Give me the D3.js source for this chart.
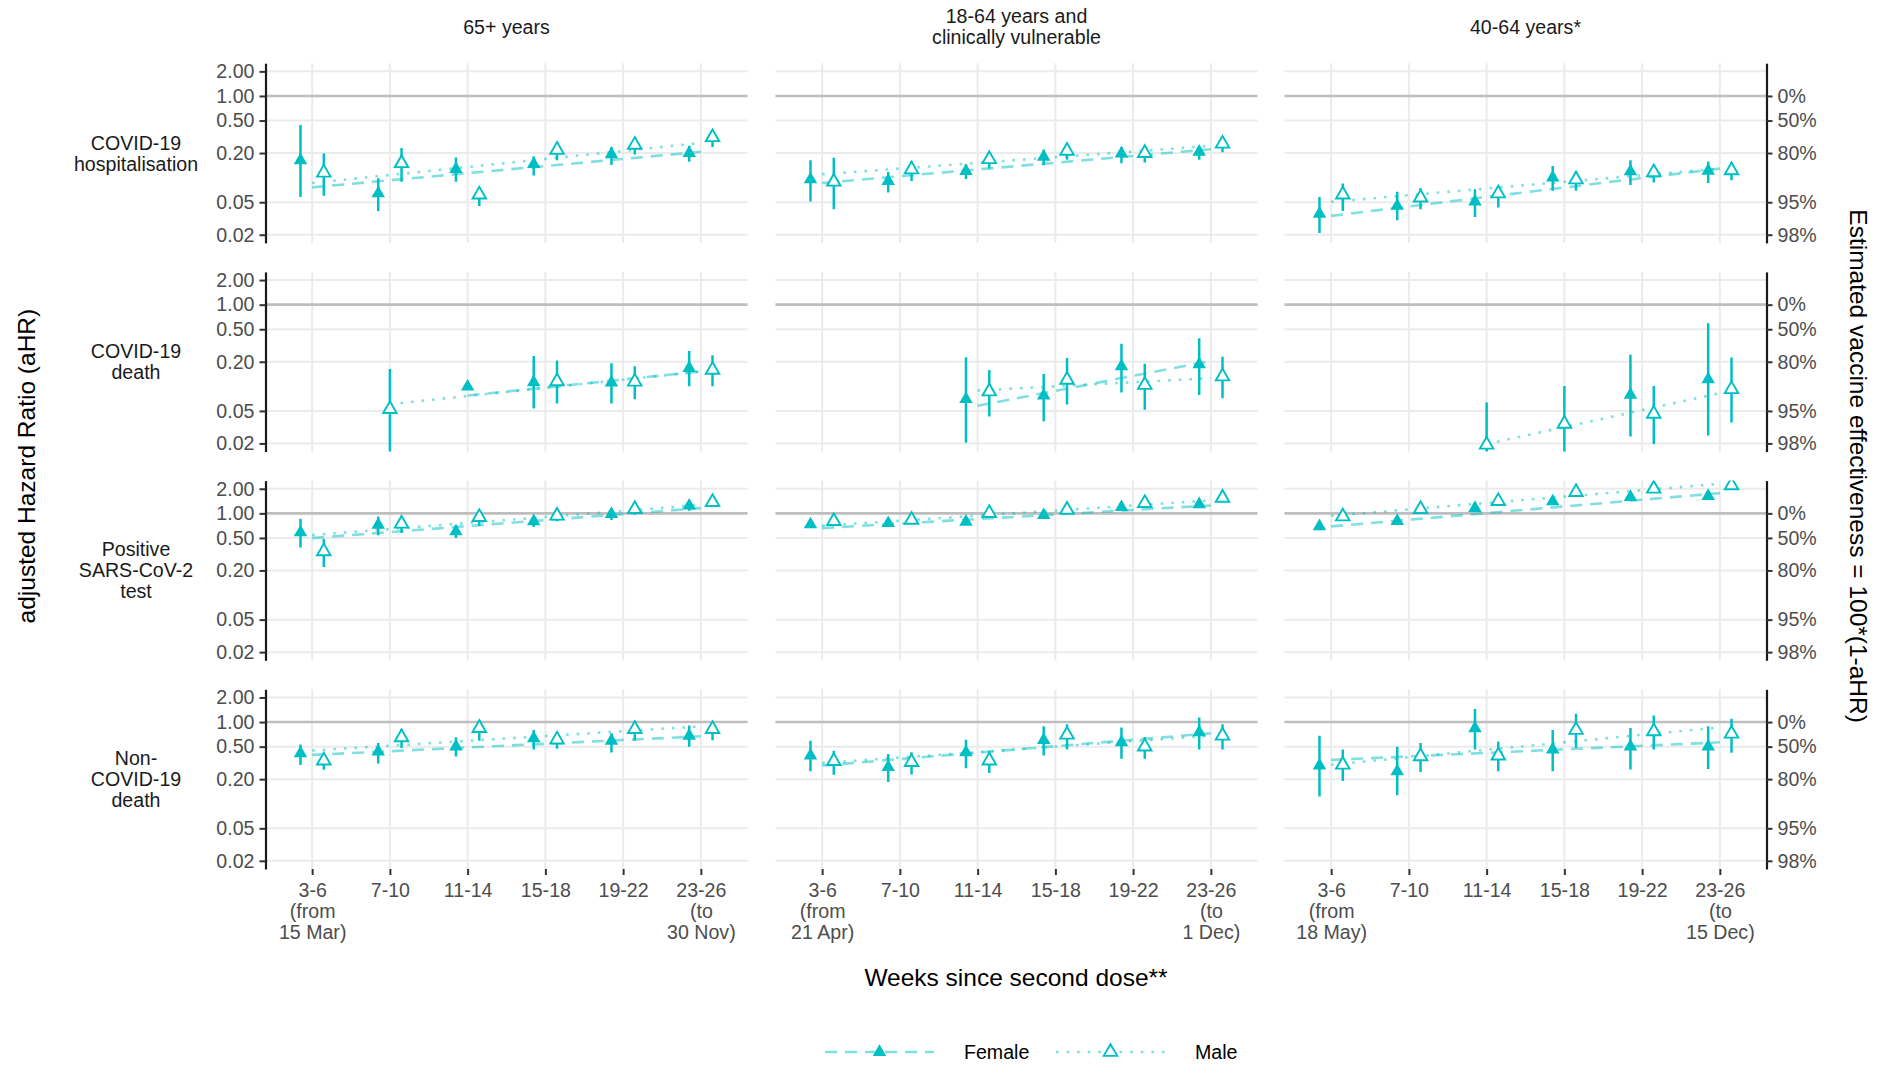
<!DOCTYPE html>
<html><head><meta charset="utf-8">
<script src="https://cdn.jsdelivr.net/npm/d3@7"></script>
<style>
body{margin:0;background:#fff}
svg{display:block;font-family:"Liberation Sans",Arial,Helvetica,sans-serif}
</style>
</head><body>
<svg id="chart" width="1889" height="1065"></svg>
<script>
// ---------------- DATA ----------------
const categories = ["3-6", "7-10", "11-14", "15-18", "19-22", "23-26"];
const columnTitles = [["65+ years"], ["18-64 years and", "clinically vulnerable"], ["40-64 years*"]];
const rowTitles = [["COVID-19", "hospitalisation"], ["COVID-19", "death"], ["Positive", "SARS-CoV-2", "test"], ["Non-", "COVID-19", "death"]];
const xTickLabels65 = [["3-6", "(from", "15 Mar)"], ["7-10"], ["11-14"], ["15-18"], ["19-22"], ["23-26", "(to", "30 Nov)"]];
const xTickLabels1864 = [["3-6", "(from", "21 Apr)"], ["7-10"], ["11-14"], ["15-18"], ["19-22"], ["23-26", "(to", "1 Dec)"]];
const xTickLabels4064 = [["3-6", "(from", "18 May)"], ["7-10"], ["11-14"], ["15-18"], ["19-22"], ["23-26", "(to", "15 Dec)"]];
const yTicks = [0.02, 0.05, 0.2, 0.5, 1, 2];
const yTickLabels = ["0.02", "0.05", "0.20", "0.50", "1.00", "2.00"];
const veTicks = [0.02, 0.05, 0.2, 0.5, 1];
const veTickLabels = ["98%", "95%", "80%", "50%", "0%"];
const seriesNames = ["Female", "Male"];

// [aHR, lower, upper] per category; one inner list per column (65+, 18-64 CV, 40-64)
const hospFemale = [
  [[0.163,0.058,0.44],[0.064,0.039,0.098],[0.127,0.089,0.176],[0.146,0.106,0.182],[0.193,0.143,0.238],[0.2,0.156,0.245]],
  [[0.095,0.051,0.163],[0.091,0.066,0.117],[0.12,0.096,0.146],[0.18,0.142,0.219],[0.197,0.15,0.238],[0.207,0.166,0.245]],
  [[0.036,0.021,0.058],[0.045,0.030,0.067],[0.051,0.033,0.072],[0.1,0.069,0.139],[0.119,0.081,0.163],[0.121,0.086,0.158]]
];
const hospMale = [
  [[0.115,0.06,0.197],[0.15,0.089,0.231],[0.062,0.045,0.076],[0.219,0.163,0.27],[0.252,0.192,0.306],[0.312,0.238,0.38]],
  [[0.089,0.041,0.175],[0.126,0.091,0.16],[0.168,0.129,0.2],[0.213,0.166,0.26],[0.2,0.153,0.238],[0.26,0.204,0.31]],
  [[0.062,0.039,0.085],[0.057,0.041,0.074],[0.064,0.043,0.079],[0.095,0.069,0.121],[0.116,0.087,0.142],[0.123,0.093,0.153]]
];
const deathFemale = [
  [null,null,[0.099,null,null],[0.112,0.0536,0.236],[0.111,0.0616,0.192],[0.167,0.1,0.271]],
  [null,null,[0.0696,0.0204,0.227],[0.0771,0.0375,0.142],[0.176,0.084,0.333],[0.186,0.0786,0.387]],
  [null,null,null,null,[0.0787,0.0244,0.243],[0.122,0.025,0.591]]
];
const deathMale = [
  [null,[0.0526,0.012,0.163],null,[0.115,0.0616,0.207],[0.114,0.0696,0.176],[0.159,0.1,0.24]],
  [null,null,[0.0864,0.0428,0.159],[0.12,0.06,0.223],[0.104,0.0517,0.189],[0.132,0.0716,0.231]],
  [null,null,[0.0193,0.008,0.0632],[0.0348,0.012,0.101],[0.0461,0.0197,0.101],[0.0923,0.0362,0.225]]
];
const testFemale = [
  [[0.584,0.383,0.859],[0.725,0.541,0.916],[0.6,0.5,0.692],[0.798,0.68,0.916],[0.979,0.83,1.1],[1.24,1.08,1.43]],
  [[0.732,0.70,0.765],[0.758,0.725,0.79],[0.787,0.75,0.825],[0.95,0.91,0.99],[1.19,1.13,1.25],[1.29,1.22,1.36]],
  [[0.692,0.65,0.735],[0.804,0.76,0.85],[1.16,1.10,1.22],[1.40,1.33,1.47],[1.58,1.50,1.66],[1.63,1.54,1.72]]
];
const testMale = [
  [[0.342,0.22,0.484],[0.746,0.574,0.916],[0.9,0.704,1.05],[0.935,0.8,1.08],[1.127,0.96,1.29],[1.373,1.19,1.57]],
  [[0.804,0.77,0.84],[0.833,0.80,0.87],[1.007,0.96,1.05],[1.107,1.06,1.16],[1.335,1.27,1.40],[1.55,1.47,1.63]],
  [[0.916,0.87,0.965],[1.127,1.07,1.19],[1.41,1.34,1.48],[1.82,1.73,1.91],[2.0,1.90,2.1],[2.2,2.09,2.31]]
];
const nonCovidFemale = [
  [[0.415,0.297,0.53],[0.434,0.31,0.555],[0.5,0.378,0.651],[0.633,0.46,0.8],[0.59,0.425,0.73],[0.68,0.5,0.91]],
  [[0.389,0.25,0.59],[0.28,0.184,0.406],[0.425,0.272,0.606],[0.603,0.389,0.886],[0.565,0.355,0.86],[0.748,0.46,1.14]],
  [[0.294,0.123,0.682],[0.25,0.127,0.5],[0.837,0.46,1.44],[0.46,0.25,0.8],[0.5,0.262,0.845],[0.5,0.267,0.886]]
];
const nonCovidMale = [
  [[0.338,0.26,0.406],[0.651,0.48,0.82],[0.845,0.59,1.06],[0.61,0.47,0.75],[0.82,0.59,1.04],[0.82,0.6,1.0]],
  [[0.332,0.226,0.446],[0.323,0.228,0.426],[0.338,0.238,0.446],[0.7,0.46,0.94],[0.5,0.355,0.651],[0.68,0.46,0.94]],
  [[0.3,0.19,0.46],[0.38,0.244,0.555],[0.389,0.25,0.58],[0.8,0.48,1.26],[0.77,0.46,1.2],[0.72,0.42,1.1]]
];
// trend lines: [fromCategoryIndex, fromValue, toCategoryIndex, toValue] per outcome row, per column
const femaleTrend = [
  [[0,0.076,5,0.207],[0,0.086,5,0.223],[0,0.034,5,0.129]],
  [[2,0.0771,5,0.152],[2,0.0577,5,0.205],null],
  [[0,0.498,5,1.16],[0,0.66,5,1.25],[0,0.692,5,1.77]],
  [[0,0.396,5,0.669],[0,0.294,5,0.728],[0,0.344,5,0.565]]
];
const maleTrend = [
  [[0,0.086,5,0.266],[0,0.110,5,0.245],[0,0.0506,5,0.129]],
  [[1,0.0605,5,0.152],[2,0.089,5,0.126],[2,0.0197,5,0.0824]],
  [[0,0.542,5,1.27],[0,0.704,5,1.44],[0,0.934,5,2.3]],
  [[0,0.448,5,0.886],[0,0.315,5,0.68],[0,0.30,5,0.862]]
];

// ---------------- LAYOUT ----------------
const femaleRows = [hospFemale, deathFemale, testFemale, nonCovidFemale];
const maleRows = [hospMale, deathMale, testMale, nonCovidMale];
const xTickLabelSets = [xTickLabels65, xTickLabels1864, xTickLabels4064];
const teal = "#00BFC4";
const colLeft = [265.5, 775.5, 1284.5], panelW = 482;
const rowTop0 = 63.2, rowStep = 208.7, panelH = 179.7;
const fs = 19.6, fsTitle = 24.5, lineStep = 21;

const svg = d3.select("#chart");
const x = d3.scalePoint().domain(categories).range([0, panelW]).padding(0.6);
const yLim = [0.02, 2];
const ext = Math.log10(yLim[1] / yLim[0]) * 0.05;
const y = d3.scaleLog().domain([yLim[0] / Math.pow(10, ext), yLim[1] * Math.pow(10, ext)]).range([panelH, 0]);
const dodge = x.step() * 0.15;

function triPath(s) {
  const a = s / Math.sqrt(3), b = s / (2 * Math.sqrt(3));
  return `M0,${-a}L${s/2},${b}L${-s/2},${b}Z`;
}
const TRI = triPath(13.5);
const dashArr = {Female: "12,8", Male: "2.6,8"};

const defs = svg.append("defs");

for (let r = 0; r < 4; r++) {
  for (let c = 0; c < 3; c++) {
    const top = rowTop0 + r * rowStep;
    const g = svg.append("g").attr("transform", `translate(${colLeft[c]},${top})`);
    const clipId = `clip-${r}-${c}`;
    defs.append("clipPath").attr("id", clipId).append("rect")
      .attr("x", 0).attr("y", 0).attr("width", panelW).attr("height", panelH);

    // grid
    g.selectAll("line.hg").data(yTicks).join("line").attr("class", "hg")
      .attr("x1", 0).attr("x2", panelW).attr("y1", d => y(d)).attr("y2", d => y(d))
      .attr("stroke", "#EBEBEB").attr("stroke-width", 2);
    g.selectAll("line.vg").data(categories).join("line").attr("class", "vg")
      .attr("x1", d => x(d)).attr("x2", d => x(d)).attr("y1", 0).attr("y2", panelH)
      .attr("stroke", "#EBEBEB").attr("stroke-width", 2);
    g.append("line").attr("x1", 0).attr("x2", panelW).attr("y1", y(1)).attr("y2", y(1))
      .attr("stroke", "#BEBEBE").attr("stroke-width", 2.6);

    const inner = g.append("g").attr("clip-path", `url(#${clipId})`);

    // trend lines
    const trends = [["Female", femaleTrend[r][c]], ["Male", maleTrend[r][c]]];
    const line = d3.line().x(d => x(categories[d[0]])).y(d => y(d[1]));
    trends.forEach(([name, t]) => {
      if (!t) return;
      inner.append("path").datum([[t[0], t[1]], [t[2], t[3]]])
        .attr("d", line).attr("fill", "none").attr("stroke", teal).attr("stroke-opacity", 0.5)
        .attr("stroke-width", 2.6).attr("stroke-dasharray", dashArr[name]);
    });

    // points
    const fem = femaleRows[r][c], mal = maleRows[r][c];
    const pts = [];
    categories.forEach((cat, i) => {
      const both = fem[i] && mal[i];
      if (fem[i]) pts.push({sex: "Female", cat, v: fem[i][0], lo: fem[i][1], hi: fem[i][2], dx: both ? -dodge : 0});
      if (mal[i]) pts.push({sex: "Male", cat, v: mal[i][0], lo: mal[i][1], hi: mal[i][2], dx: both ? dodge : 0});
    });
    inner.selectAll("line.err").data(pts.filter(d => d.lo != null)).join("line").attr("class", "err")
      .attr("x1", d => x(d.cat) + d.dx).attr("x2", d => x(d.cat) + d.dx)
      .attr("y1", d => y(d.lo)).attr("y2", d => y(d.hi))
      .attr("stroke", teal).attr("stroke-width", 2.5);
    inner.selectAll("path.pt").data(pts).join("path").attr("class", "pt")
      .attr("d", TRI)
      .attr("transform", d => `translate(${x(d.cat) + d.dx},${y(d.v)})`)
      .attr("fill", d => d.sex === "Female" ? teal : "#fff")
      .attr("stroke", teal).attr("stroke-width", d => d.sex === "Female" ? 0 : 1.9);

    // axes
    if (c === 0) {
      const ax = g.append("g").call(d3.axisLeft(y).tickValues(yTicks)
        .tickFormat((d) => yTickLabels[yTicks.indexOf(d)]).tickSize(6).tickSizeOuter(0).tickPadding(5));
      styleAxis(ax);
    }
    if (c === 2) {
      const ax = g.append("g").attr("transform", `translate(${panelW},0)`)
        .call(d3.axisRight(y).tickValues(veTicks)
        .tickFormat((d) => veTickLabels[veTicks.indexOf(d)]).tickSize(6).tickSizeOuter(0).tickPadding(5));
      styleAxis(ax);
    }
    if (r === 3) {
      const ax = g.append("g").attr("transform", `translate(0,${panelH})`)
        .call(d3.axisBottom(x).tickSize(6).tickSizeOuter(0));
      ax.select(".domain").remove();
      ax.selectAll(".tick line").attr("stroke", "#333").attr("stroke-width", 2);
      ax.selectAll(".tick text").remove();
      const labels = xTickLabelSets[c];
      ax.selectAll(".tick").each(function(d, i) {
        const t = d3.select(this).append("text").attr("text-anchor", "middle")
          .attr("fill", "#4D4D4D").style("font-size", fs + "px");
        labels[i].forEach((s, k) => t.append("tspan").attr("x", 0).attr("y", 28 + k * lineStep).text(s));
      });
    }
  }
}

function styleAxis(ax) {
  ax.select(".domain").attr("stroke", "#1A1A1A").attr("stroke-width", 2.2);
  ax.selectAll(".tick line").attr("stroke", "#333").attr("stroke-width", 2);
  ax.selectAll(".tick text").attr("fill", "#4D4D4D").style("font-size", fs + "px").attr("font-family", null);
  ax.attr("font-family", null).attr("font-size", null);
}

// column strips
columnTitles.forEach((lines, c) => {
  const cx = colLeft[c] + panelW / 2;
  const mid = 26.7;
  const t = svg.append("text").attr("text-anchor", "middle").attr("fill", "#1A1A1A").style("font-size", fs + "px");
  lines.forEach((s, k) => t.append("tspan").attr("x", cx)
    .attr("y", mid - (lines.length - 1) * lineStep / 2 + k * lineStep + 7).text(s));
});
// row strips
rowTitles.forEach((lines, r) => {
  const mid = rowTop0 + r * rowStep + panelH / 2;
  const t = svg.append("text").attr("text-anchor", "middle").attr("fill", "#1A1A1A").style("font-size", fs + "px");
  lines.forEach((s, k) => t.append("tspan").attr("x", 136)
    .attr("y", mid - (lines.length - 1) * lineStep / 2 + k * lineStep + 7).text(s));
});

// axis titles
const plotMidY = rowTop0 + (3 * rowStep + panelH) / 2;
svg.append("text").attr("transform", `translate(26.5,${plotMidY}) rotate(-90)`)
  .attr("text-anchor", "middle").attr("dy", "0.35em").style("font-size", fsTitle + "px").attr("fill", "#000")
  .text("adjusted Hazard Ratio (aHR)");
svg.append("text").attr("transform", `translate(1859,${plotMidY}) rotate(90)`)
  .attr("text-anchor", "middle").attr("dy", "0.35em").style("font-size", fsTitle + "px").attr("fill", "#000")
  .text("Estimated vaccine effectiveness = 100*(1-aHR)");
svg.append("text").attr("x", (colLeft[0] + colLeft[2] + panelW) / 2).attr("y", 986)
  .attr("text-anchor", "middle").style("font-size", fsTitle + "px").attr("fill", "#000")
  .text("Weeks since second dose**");

// legend
const legY = 1052;
const legKeys = [{name: seriesNames[0], x0: 825, x1: 934, tx: 964}, {name: seriesNames[1], x0: 1056, x1: 1165, tx: 1195}];
legKeys.forEach(k => {
  const lg = svg.append("g");
  lg.append("line").attr("x1", k.x0).attr("x2", k.x1).attr("y1", legY).attr("y2", legY)
    .attr("stroke", teal).attr("stroke-opacity", 0.5).attr("stroke-width", 2.6)
    .attr("stroke-dasharray", dashArr[k.name]);
  lg.append("path").attr("d", TRI).attr("transform", `translate(${(k.x0 + k.x1) / 2},${legY})`)
    .attr("fill", k.name === "Female" ? teal : "#fff").attr("stroke", teal)
    .attr("stroke-width", k.name === "Female" ? 0 : 1.9);
  lg.append("text").attr("x", k.tx).attr("y", legY + 7).style("font-size", fs + "px").attr("fill", "#000").text(k.name);
});
</script>
</body></html>
